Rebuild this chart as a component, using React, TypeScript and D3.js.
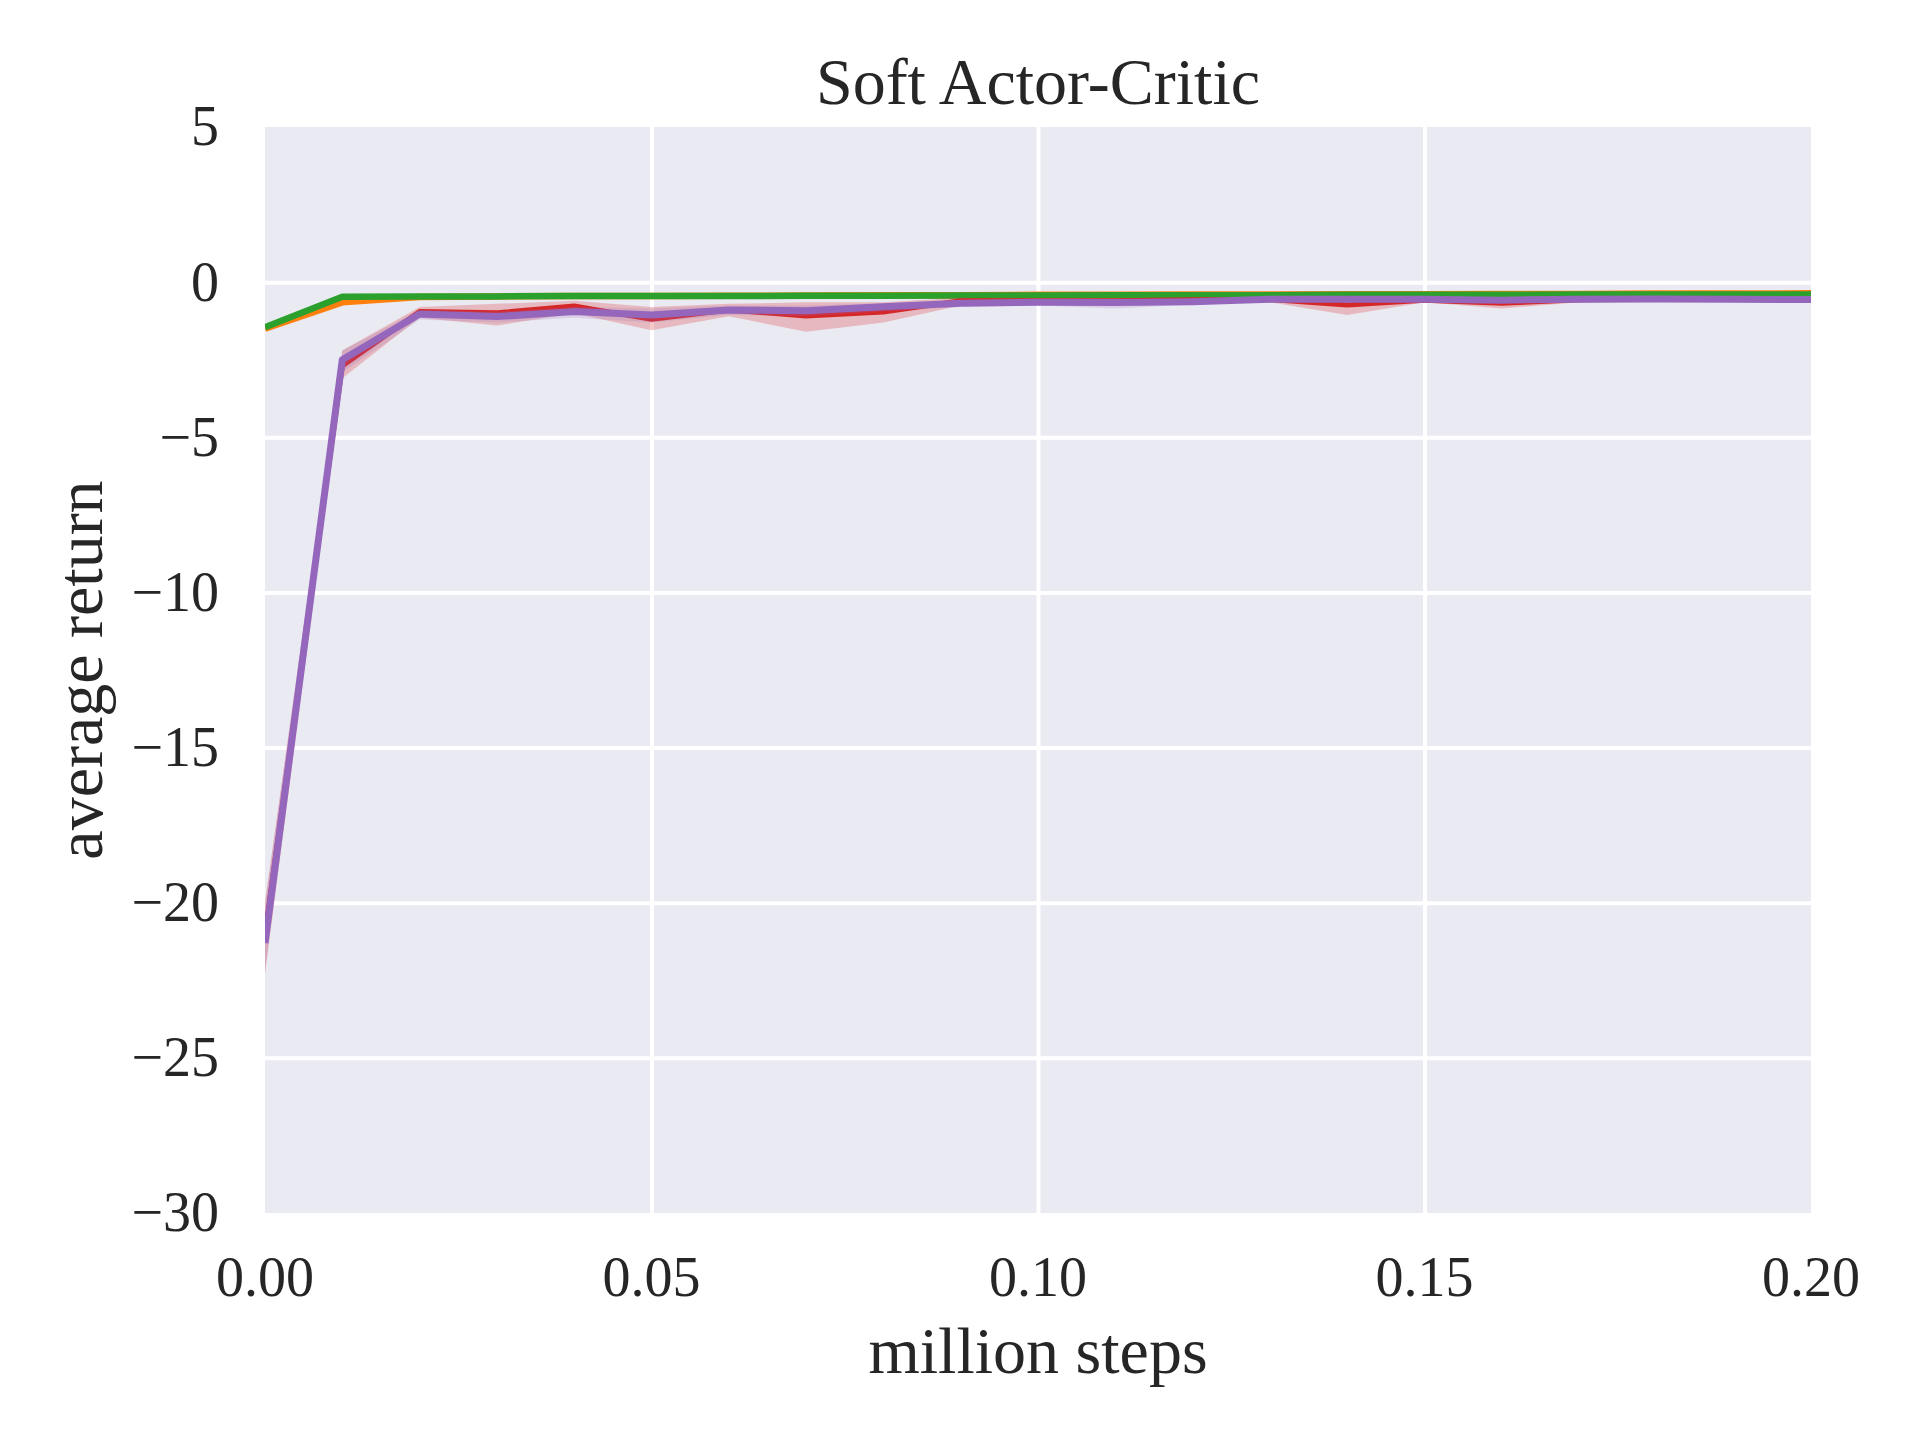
import * as d3 from "d3";
import { useEffect, useRef } from "react";

// --- data ---
const steps = [0, 0.01, 0.02, 0.03, 0.04, 0.05, 0.06, 0.07, 0.08, 0.09, 0.1, 0.11, 0.12, 0.13, 0.14, 0.15, 0.16, 0.17, 0.18, 0.19, 0.2];

const orangeMean = [-1.5, -0.65, -0.48, -0.46, -0.45, -0.45, -0.44, -0.43, -0.42, -0.42, -0.41, -0.41, -0.4, -0.4, -0.39, -0.39, -0.38, -0.38, -0.37, -0.37, -0.36];
const greenMean = [-1.45, -0.47, -0.46, -0.46, -0.45, -0.45, -0.45, -0.44, -0.44, -0.43, -0.43, -0.42, -0.42, -0.42, -0.41, -0.41, -0.41, -0.4, -0.4, -0.4, -0.4];

const redMean = [-21.0, -2.7, -0.95, -0.99, -0.77, -1.2, -0.9, -1.09, -0.96, -0.6, -0.6, -0.6, -0.57, -0.56, -0.74, -0.58, -0.68, -0.57, -0.55, -0.55, -0.55];
const redLow = [-22.3, -3.1, -1.15, -1.4, -1.0, -1.55, -1.1, -1.6, -1.3, -0.75, -0.7, -0.7, -0.65, -0.65, -1.06, -0.65, -0.85, -0.65, -0.6, -0.6, -0.6];
const redHigh = [-20.0, -2.2, -0.8, -0.7, -0.6, -0.8, -0.7, -0.65, -0.65, -0.5, -0.5, -0.5, -0.5, -0.5, -0.5, -0.5, -0.5, -0.5, -0.5, -0.5, -0.5];

const purpleMean = [-21.3, -2.5, -1.03, -1.11, -0.95, -1.06, -0.9, -0.92, -0.79, -0.68, -0.65, -0.66, -0.63, -0.55, -0.55, -0.55, -0.58, -0.55, -0.54, -0.55, -0.56];
const purpleLow = [-22.2, -2.9, -1.2, -1.3, -1.15, -1.3, -1.05, -1.1, -0.95, -0.8, -0.75, -0.85, -0.72, -0.62, -0.62, -0.62, -0.65, -0.62, -0.6, -0.6, -0.62];
const purpleHigh = [-20.0, -2.2, -0.9, -0.95, -0.8, -0.85, -0.75, -0.75, -0.68, -0.6, -0.58, -0.56, -0.56, -0.5, -0.5, -0.5, -0.52, -0.5, -0.5, -0.5, -0.5];

const xTicks = [0, 0.05, 0.1, 0.15, 0.2];
const yTicks = [5, 0, -5, -10, -15, -20, -25, -30];

export default function App() {
  const svgRef = useRef<SVGSVGElement | null>(null);
  useEffect(() => {
    if (!svgRef.current) return;
    drawChart(svgRef.current);
  }, []);
  return (
    <div style={{ position: "absolute", left: 0, top: 0 }}>
      <svg ref={svgRef} width={1920} height={1440} style={{ display: "block", background: "#ffffff" }} />
    </div>
  );
}

function drawChart(svgElement: SVGSVGElement) {
  const svg = d3.select(svgElement);
  svg.selectAll("*").remove();

  const margin = { top: 127, right: 109, bottom: 227, left: 265 };
  const width = 1920 - margin.left - margin.right;
  const height = 1440 - margin.top - margin.bottom;
  const font = "'Liberation Serif', 'Times New Roman', serif";
  const textColor = "#262626";

  const x = d3.scaleLinear().domain([0, 0.2]).range([0, width]);
  const y = d3.scaleLinear().domain([-30, 5]).range([height, 0]);

  svg.append("defs")
    .append("clipPath")
    .attr("id", "plot-clip")
    .append("rect")
    .attr("width", width)
    .attr("height", height);

  const chart = svg.append("g").attr("transform", `translate(${margin.left},${margin.top})`);

  // background
  chart.append("rect")
    .attr("width", width)
    .attr("height", height)
    .attr("fill", "#eaeaf2");

  // --- grid ---
  const xGrid = chart.append("g")
    .attr("transform", `translate(0,${height})`)
    .call(d3.axisBottom(x).tickValues(xTicks.slice(1, -1)).tickSize(-height).tickFormat(() => ""));
  xGrid.select(".domain").remove();
  xGrid.selectAll("line").attr("stroke", "#ffffff").attr("stroke-width", 4);

  const yGrid = chart.append("g")
    .call(d3.axisLeft(y).tickValues(yTicks.slice(1, -1)).tickSize(-width).tickFormat(() => ""));
  yGrid.select(".domain").remove();
  yGrid.selectAll("line").attr("stroke", "#ffffff").attr("stroke-width", 4);

  // --- series ---
  const plot = chart.append("g").attr("clip-path", "url(#plot-clip)");

  const line = d3.line<number>()
    .x((_, i) => x(steps[i]))
    .y(d => y(d));

  const drawBand = (low: number[], high: number[], color: string, opacity: number) => {
    const area = d3.area<number>()
      .x((_, i) => x(steps[i]))
      .y0(d => y(d))
      .y1((_, i) => y(high[i]));
    plot.append("path")
      .datum(low)
      .attr("d", area)
      .attr("fill", color)
      .attr("fill-opacity", opacity)
      .attr("stroke", "none");
  };

  const drawLine = (values: number[], color: string, w: number) => {
    plot.append("path")
      .datum(values)
      .attr("d", line)
      .attr("fill", "none")
      .attr("stroke", color)
      .attr("stroke-width", w)
      .attr("stroke-linejoin", "round");
  };

  drawLine(orangeMean, "#ff7f0e", 6.5);
  drawLine(greenMean, "#2ca02c", 6.5);
  drawBand(redLow, redHigh, "#d62728", 0.25);
  drawLine(redMean, "#d62728", 5);
  drawBand(purpleLow, purpleHigh, "#9467bd", 0.2);
  drawLine(purpleMean, "#9467bd", 7);

  // --- tick labels ---
  const fmtX = d3.format(".2f");
  chart.append("g")
    .selectAll("text")
    .data(xTicks)
    .join("text")
    .attr("x", d => x(d))
    .attr("y", height + 83)
    .attr("text-anchor", "middle")
    .attr("font-family", font)
    .attr("font-size", 56)
    .attr("fill", textColor)
    .text(d => fmtX(d));

  const fmtY = d3.format("d");
  chart.append("g")
    .selectAll("text")
    .data(yTicks)
    .join("text")
    .attr("x", -46)
    .attr("y", d => y(d))
    .attr("dy", "0.33em")
    .attr("text-anchor", "end")
    .attr("font-family", font)
    .attr("font-size", 56)
    .attr("fill", textColor)
    .text(d => fmtY(d));

  // --- labels ---
  svg.append("text")
    .attr("x", margin.left + width / 2)
    .attr("y", 104)
    .attr("text-anchor", "middle")
    .attr("font-family", font)
    .attr("font-size", 66)
    .attr("fill", textColor)
    .text("Soft Actor-Critic");

  svg.append("text")
    .attr("x", margin.left + width / 2)
    .attr("y", 1373)
    .attr("text-anchor", "middle")
    .attr("font-family", font)
    .attr("font-size", 66)
    .attr("fill", textColor)
    .text("million steps");

  svg.append("text")
    .attr("transform", `translate(102,${margin.top + height / 2}) rotate(-90)`)
    .attr("text-anchor", "middle")
    .attr("font-family", font)
    .attr("font-size", 66)
    .attr("fill", textColor)
    .text("average return");
}
